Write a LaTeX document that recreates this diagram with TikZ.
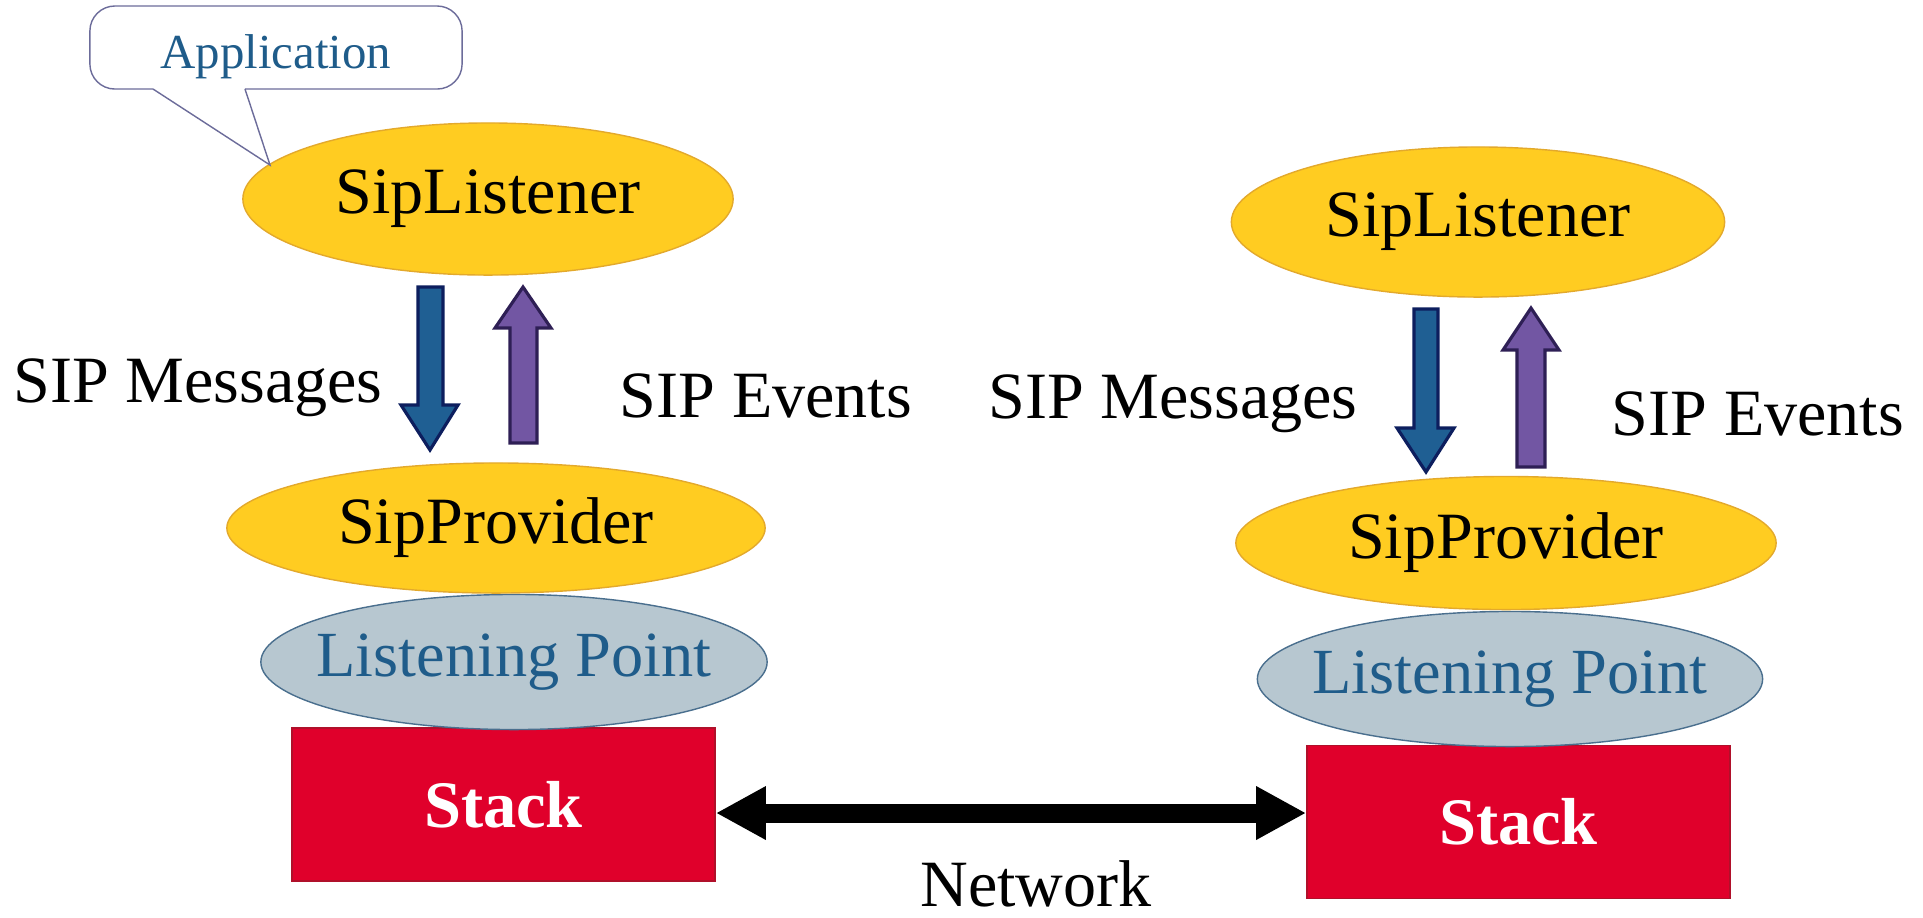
\documentclass[tikz,border=0pt]{standalone}
\usepackage{fontspec}
\setmainfont{Liberation Serif}
\usetikzlibrary{shapes.geometric}
\usetikzlibrary{arrows,arrows.meta}
\usepackage{xcolor}
\definecolor{myyellow}{HTML}{FFCC21}
\definecolor{myyellowedge}{HTML}{E3A92C}
\definecolor{mygrey}{HTML}{B7C7D0}
\definecolor{mygreyedge}{HTML}{4A6F8E}
\definecolor{mytextblue}{HTML}{1F5C8A}
\definecolor{myred}{HTML}{E0002B}
\definecolor{myrededge}{HTML}{B0102A}
\definecolor{myblue}{HTML}{1F5F93}
\definecolor{myblueedge}{HTML}{0D1E5E}
\definecolor{mypurple}{HTML}{7256A3}
\definecolor{mypurpleedge}{HTML}{2E1F55}
\definecolor{mycallout}{HTML}{6C6C9A}

\begin{document}
\begin{tikzpicture}[>=latex',thick,x=0.01cm,y=-0.01cm,
    yellowell/.style={ellipse, fill=myyellow, draw=myyellowedge, thin,
      inner sep=0pt, font=\fontsize{18.8}{22}\selectfont},
    greyell/.style={ellipse, fill=mygrey, draw=mygreyedge, thin, inner ysep=0pt,
      inner xsep=-2cm, text=mytextblue, font=\fontsize{18.3}{21}\selectfont},
    stackbox/.style={rectangle, fill=myred, draw=myrededge, thin, inner sep=0pt,
      minimum width=4.23cm, minimum height=1.53cm, text=white,
      font=\fontsize{18.9}{22}\selectfont\bfseries},
    label/.style={font=\fontsize{18.8}{22}\selectfont, inner sep=0pt, anchor=base},
    downblock/.style={fill=myblue, draw=myblueedge, line width=0.9pt, line join=miter},
    upblock/.style={fill=mypurple, draw=mypurpleedge, line width=0.9pt, line join=miter},
    netlink/.style={line width=0.19cm,
      {Triangle[length=0.5cm,width=0.5cm]}-{Triangle[length=0.5cm,width=0.5cm]}}]

      \useasboundingbox (0,0) rectangle (1923,917);

      % stacks
      \node [name=stackL, stackbox] at (503.5,804.5) {Stack};
      \node [name=stackR, stackbox] at (1518.5,822) {Stack};

      % listening points
      \node [name=pointL, greyell, minimum width=5.06cm, minimum height=1.35cm] at (514,662) {Listening Point};
      \node [name=pointR, greyell, minimum width=5.05cm, minimum height=1.35cm] at (1510,679) {Listening Point};

      % providers
      \node [name=provL, yellowell, minimum width=5.38cm, minimum height=1.30cm] at (496,528) {SipProvider};
      \node [name=provR, yellowell, minimum width=5.40cm, minimum height=1.33cm] at (1506,543) {SipProvider};

      % listeners
      \node [name=lisL, yellowell, minimum width=4.90cm, minimum height=1.52cm] at (488,199) {SipListener};
      \node [name=lisR, yellowell, minimum width=4.93cm, minimum height=1.50cm] at (1478,222) {SipListener};

      % application callout
      \node [name=app, rectangle, rounded corners=0.25cm, draw=mycallout, fill=white, thin,
        minimum width=3.72cm, minimum height=0.83cm, text height=0.41cm, text depth=0pt,
        text=mytextblue, font=\fontsize{13.9}{16}\selectfont] at (276,47.5) {Application};
      \coordinate (tip) at (270,165);
      \fill [white] (154,86) -- (244,86) -- (245,89) -- (tip) -- (153,89) -- cycle;
      \draw [thin, color=mycallout] (153,89) -- (tip) -- (245,89);

      % block arrows, left
      \draw [downblock] (418,287) -- (443,287) -- (443,405) -- (458,405) -- (430,450)
        -- (401,405) -- (418,405) -- cycle;
      \draw [upblock] (510,443) -- (537,443) -- (537,328) -- (551,328) -- (523,287)
        -- (495,328) -- (510,328) -- cycle;

      % block arrows, right
      \draw [downblock] (1414,309) -- (1438,309) -- (1438,428) -- (1454,428) -- (1426,472)
        -- (1397,428) -- (1414,428) -- cycle;
      \draw [upblock] (1517,467) -- (1545,467) -- (1545,350) -- (1559,350) -- (1531,308)
        -- (1503,350) -- (1517,350) -- cycle;

      % labels
      \node [name=msgL, label] at (198,402) {SIP Messages};
      \node [name=evtL, label] at (766,417) {SIP Events};
      \node [name=msgR, label] at (1173,418) {SIP Messages};
      \node [name=evtR, label] at (1758,435) {SIP Events};

      % network
      \draw [netlink] (stackL.east |- 0,813) -- (stackR.west |- 0,813);
      \node [name=net, label] at (1036,906) {Network};

    \end{tikzpicture}
\end{document}
